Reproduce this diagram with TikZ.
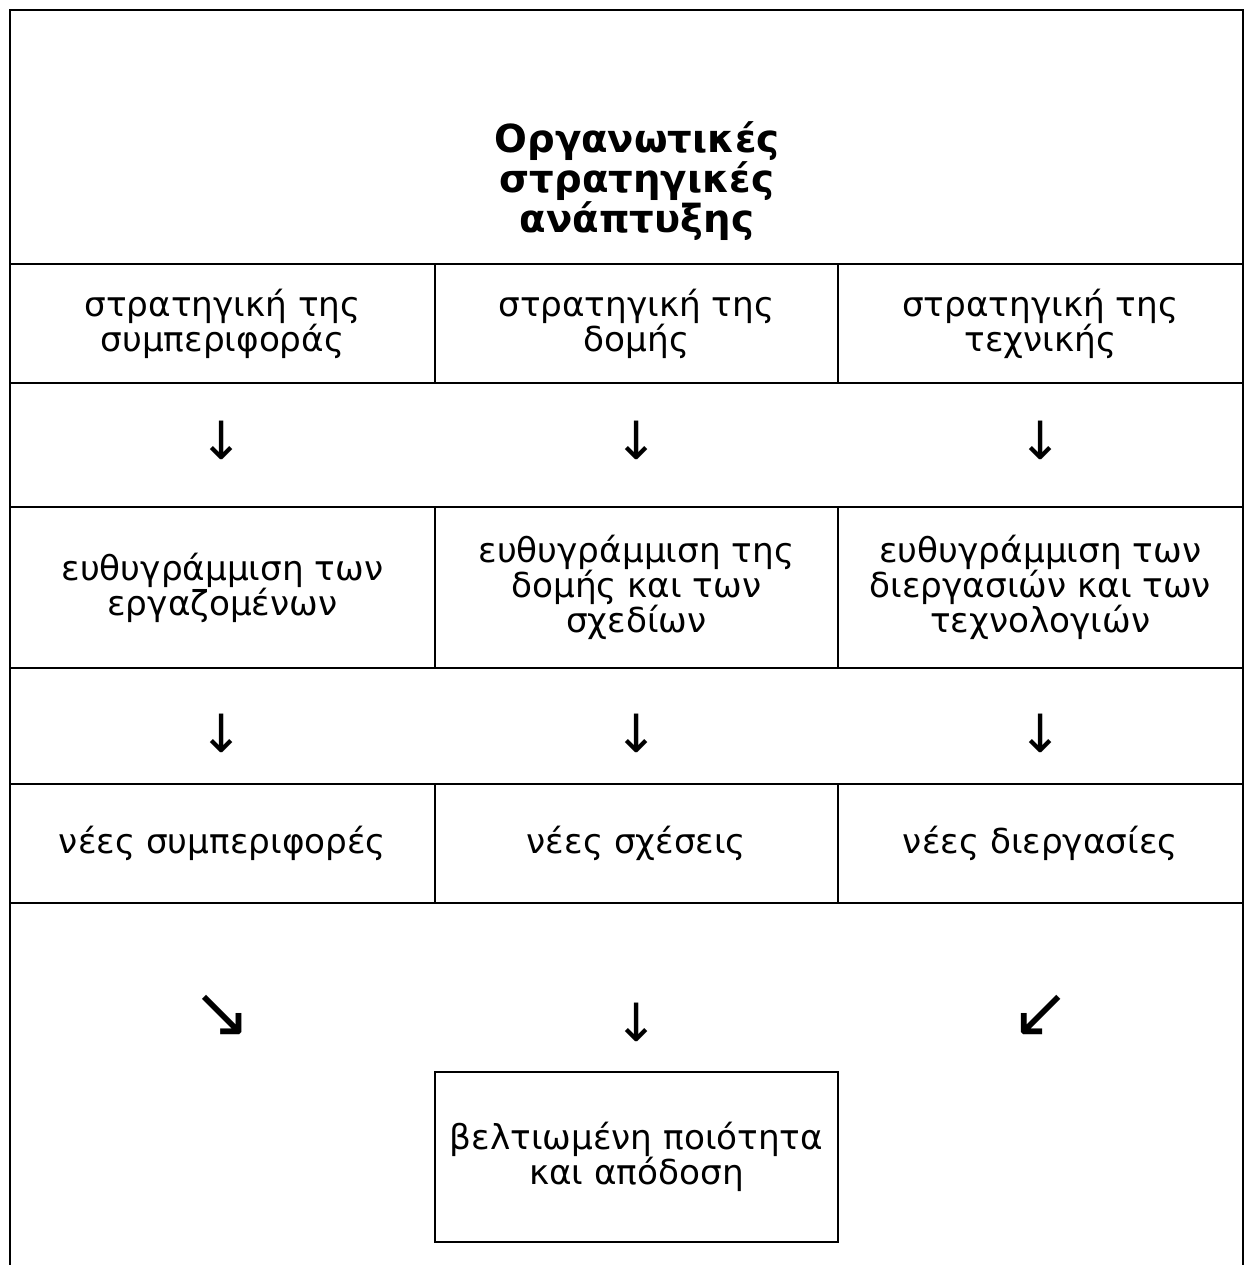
\documentclass[tikz,border=0pt]{standalone}
\usepackage{fontspec}
\setmainfont{DejaVu Sans}
\usetikzlibrary{positioning}
\tikzstyle{cell}=[draw, line width=0.8pt, inner sep=0pt, outer sep=0pt, align=center, font=\fontsize{19.5}{20}\selectfont]
\tikzstyle{arrowglyph}=[inner sep=0pt, font=\fontsize{30}{30}\selectfont]
\tikzstyle{diagglyph}=[inner sep=0pt, font=\fontsize{40}{40}\selectfont]
\tikzstyle{frame}=[line width=0.8pt]

\begin{document}
\begin{tikzpicture}[x=0.02cm, y=-0.02cm]
    \useasboundingbox (0,0) rectangle (1251,1265);

    % outer frame and title
    \draw[frame] (10,1265) -- (10,10) -- (1243,10) -- (1243,1265);
    \node[cell, minimum width=24.66cm, minimum height=5.08cm, anchor=north west] (title) at (10,10) {};
    \node[font=\bfseries\fontsize{22}{23}\selectfont, align=center] (titletext) at (637,181) {Οργανωτικές\\στρατηγικές\\ανάπτυξης};

    % first row
    \node[cell, minimum width=8.5cm, minimum height=2.38cm, anchor=north west] (s1) at (10,264) {στρατηγική της\\συμπεριφοράς};
    \node[cell, minimum width=8.06cm, minimum height=2.38cm, right=0pt of s1] (s2) {στρατηγική της\\δομής};
    \node[cell, minimum width=8.1cm, minimum height=2.38cm, right=0pt of s2] (s3) {στρατηγική της\\τεχνικής};

    % second row
    \node[cell, minimum width=8.5cm, minimum height=3.22cm, anchor=north west] (e1) at (10,507) {ευθυγράμμιση των\\εργαζομένων};
    \node[cell, minimum width=8.06cm, minimum height=3.22cm, right=0pt of e1] (e2) {ευθυγράμμιση της\\δομής και των\\σχεδίων};
    \node[cell, minimum width=8.1cm, minimum height=3.22cm, right=0pt of e2] (e3) {ευθυγράμμιση των\\διεργασιών και των\\τεχνολογιών};

    % third row
    \node[cell, minimum width=8.5cm, minimum height=2.38cm, anchor=north west] (n1) at (10,784) {νέες συμπεριφορές};
    \node[cell, minimum width=8.06cm, minimum height=2.38cm, right=0pt of n1] (n2) {νέες σχέσεις};
    \node[cell, minimum width=8.1cm, minimum height=2.38cm, right=0pt of n2] (n3) {νέες διεργασίες};

    % result
    \node[cell, minimum width=8.06cm, minimum height=3.4cm, anchor=north west] (res) at (435,1072) {βελτιωμένη ποιότητα\\και απόδοση};

    % arrows
    \node[arrowglyph] (a1) at (222,440) {↓};
    \node[arrowglyph] (a2) at (637,440) {↓};
    \node[arrowglyph] (a3) at (1041,440) {↓};
    \node[arrowglyph] (b1) at (222,733) {↓};
    \node[arrowglyph] (b2) at (637,733) {↓};
    \node[arrowglyph] (b3) at (1041,733) {↓};
    \node[diagglyph] (c1) at (222,1016) {↘};
    \node[arrowglyph] (c2) at (637,1022) {↓};
    \node[diagglyph] (c3) at (1041,1016) {↙};
\end{tikzpicture}
\end{document}
